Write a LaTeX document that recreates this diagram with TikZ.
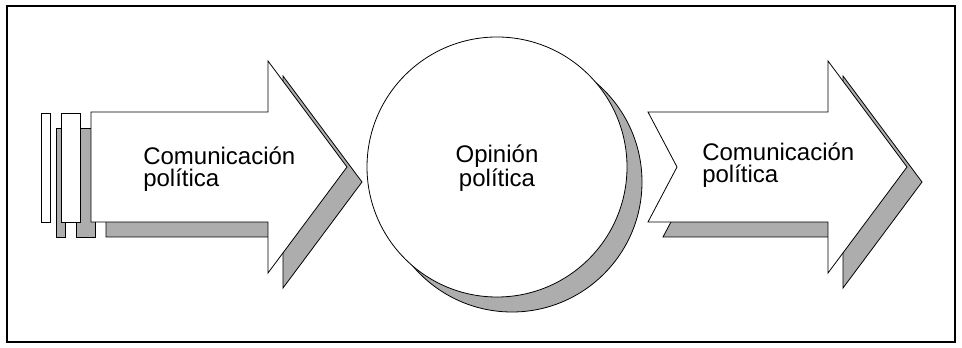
\documentclass[tikz,border=0pt]{standalone}
\usepackage{fontspec}
\setmainfont{Liberation Sans}
\begin{document}
\begin{tikzpicture}[x=0.75pt, y=-0.75pt,
    shadow/.style={draw=black, fill=black!32, line width=0.6pt, line join=miter},
    plate/.style={draw=black, fill=white, line width=0.6pt, line join=miter},
    label/.style={font=\fontsize{18pt}{16.5pt}\selectfont, inner sep=0pt}]
  \useasboundingbox (0,0) rectangle (962,348);
  \draw[line width=1.1pt] (7,6) rectangle (955,342);% frame

  % shadows first, then the white shapes on top
  \foreach \d/\s in {15/shadow, 0/plate} {
    \begin{scope}[shift={(\d,\d)}]
      \draw[\s] (41,113) rectangle (50,222);% thin bar
      \draw[\s] (61,113) rectangle (80,222);% wide bar
      \draw[\s] (91,112) -- (268,112) -- (268,61) -- (347,167)
        -- (268,273) -- (268,222) -- (91,222) -- cycle;% left arrow
      \draw[\s] (497,167) circle (130);% opinion circle
      \draw[\s] (648,112) -- (828,112) -- (828,61) -- (907,167)
        -- (828,273) -- (828,222) -- (648,222) -- (677,167) -- cycle;% right arrow
    \end{scope}
  }

  \node[label, align=left, anchor=west] (comIzq) at (143,169) {Comunicación\\política};
  \node[label, align=center] (opinion) at (497,168) {Opinión\\política};
  \node[label, align=left, anchor=west] (comDer) at (702,165) {Comunicación\\política};
\end{tikzpicture}
\end{document}
